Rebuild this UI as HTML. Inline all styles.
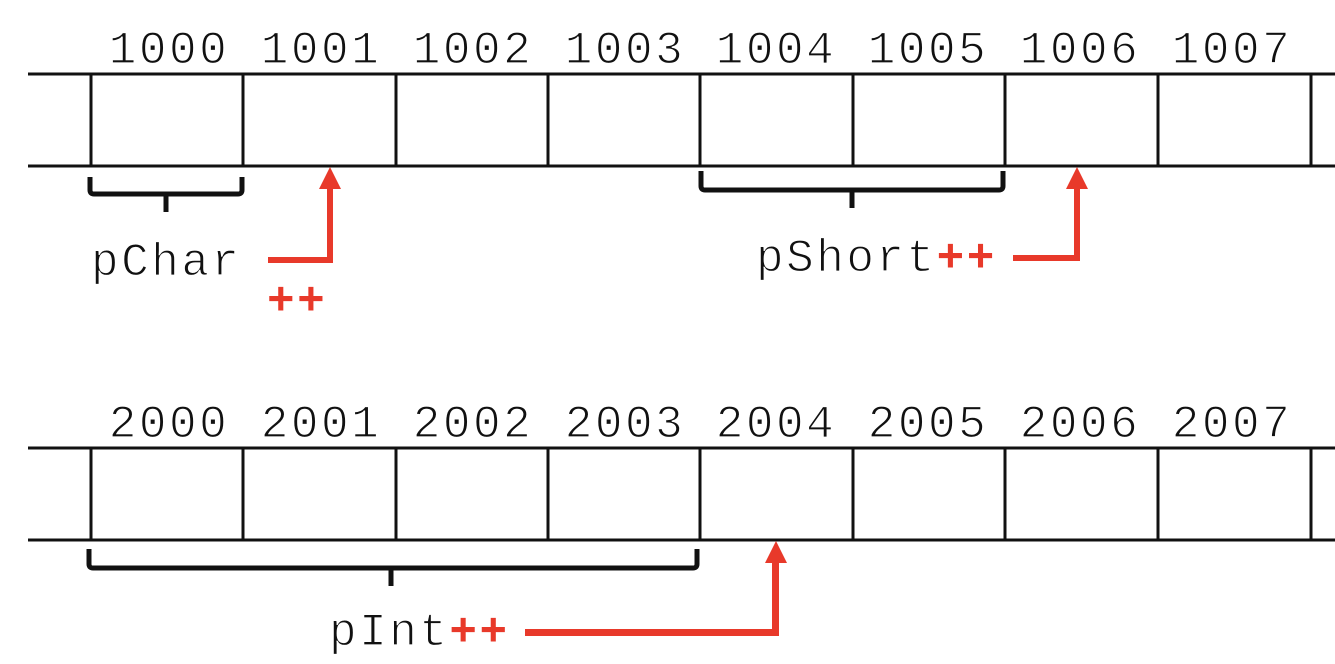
<!DOCTYPE html>
<html><head><meta charset="utf-8"><style>
html,body{margin:0;padding:0;background:#fff;}
svg{display:block;}
text{font-family:"Liberation Mono",monospace;font-size:46px;fill:#111;letter-spacing:2.5px;stroke:#fff;stroke-width:1.2px;paint-order:normal;}
.r{fill:#e8392a;font-weight:bold;stroke:none;}
</style></head><body>
<svg width="1335" height="664" viewBox="0 0 1335 664" xmlns="http://www.w3.org/2000/svg">
<g stroke="#111" stroke-width="3" fill="none">
<line x1="28" y1="74" x2="1335" y2="74"/><line x1="28" y1="166" x2="1335" y2="166"/>
<line x1="28" y1="448" x2="1335" y2="448"/><line x1="28" y1="540" x2="1335" y2="540"/>
<g id="v">
<line x1="91" y1="74" x2="91" y2="166"/><line x1="243" y1="74" x2="243" y2="166"/>
<line x1="396" y1="74" x2="396" y2="166"/><line x1="548" y1="74" x2="548" y2="166"/>
<line x1="700" y1="74" x2="700" y2="166"/><line x1="853" y1="74" x2="853" y2="166"/>
<line x1="1005" y1="74" x2="1005" y2="166"/><line x1="1158" y1="74" x2="1158" y2="166"/>
<line x1="1311" y1="74" x2="1311" y2="166"/>
</g>
<use href="#v" y="374"/>
</g>
<g stroke="#111" stroke-width="5" fill="none" stroke-linejoin="round">
<path d="M90 177 V190 Q90 194 94 194 H238 Q242 194 242 190 V177"/>
<path d="M166 194 V212"/>
<path d="M701 171 V186 Q701 190 705 190 H999 Q1003 190 1003 186 V171"/>
<path d="M852 190 V208"/>
<path d="M89 549 V564 Q89 568 93 568 H693 Q697 568 697 564 V549"/>
<path d="M391 568 V586"/>
</g>
<g fill="#e8392a" stroke="none">
<path d="M268 257 H327 V188 H333 V263 H268 Z"/><path d="M319 189 L330 167 L341 189 Z"/>
<path d="M1013 255 H1074 V188 H1080 V261 H1013 Z"/><path d="M1066 189 L1077 167 L1088 189 Z"/>
<path d="M525 629 H772 V562 H779 V636 H525 Z"/><path d="M765 563 L776 541 L787 563 Z"/>
</g>
<g text-anchor="middle">
<text x="169" y="63">1000</text><text x="321" y="63">1001</text><text x="473" y="63">1002</text><text x="625" y="63">1003</text>
<text x="776" y="63">1004</text><text x="928" y="63">1005</text><text x="1080" y="63">1006</text><text x="1232" y="63">1007</text>
<text x="169" y="437">2000</text><text x="321" y="437">2001</text><text x="473" y="437">2002</text><text x="625" y="437">2003</text>
<text x="776" y="437">2004</text><text x="928" y="437">2005</text><text x="1080" y="437">2006</text><text x="1232" y="437">2007</text>
</g>
<text x="91" y="275">pChar</text>
<text x="267" y="314" class="r">++</text>
<text x="756" y="271">pShort<tspan class="r">++</tspan></text>
<text x="329" y="645">pInt<tspan class="r">++</tspan></text>
</svg>
</body></html>
